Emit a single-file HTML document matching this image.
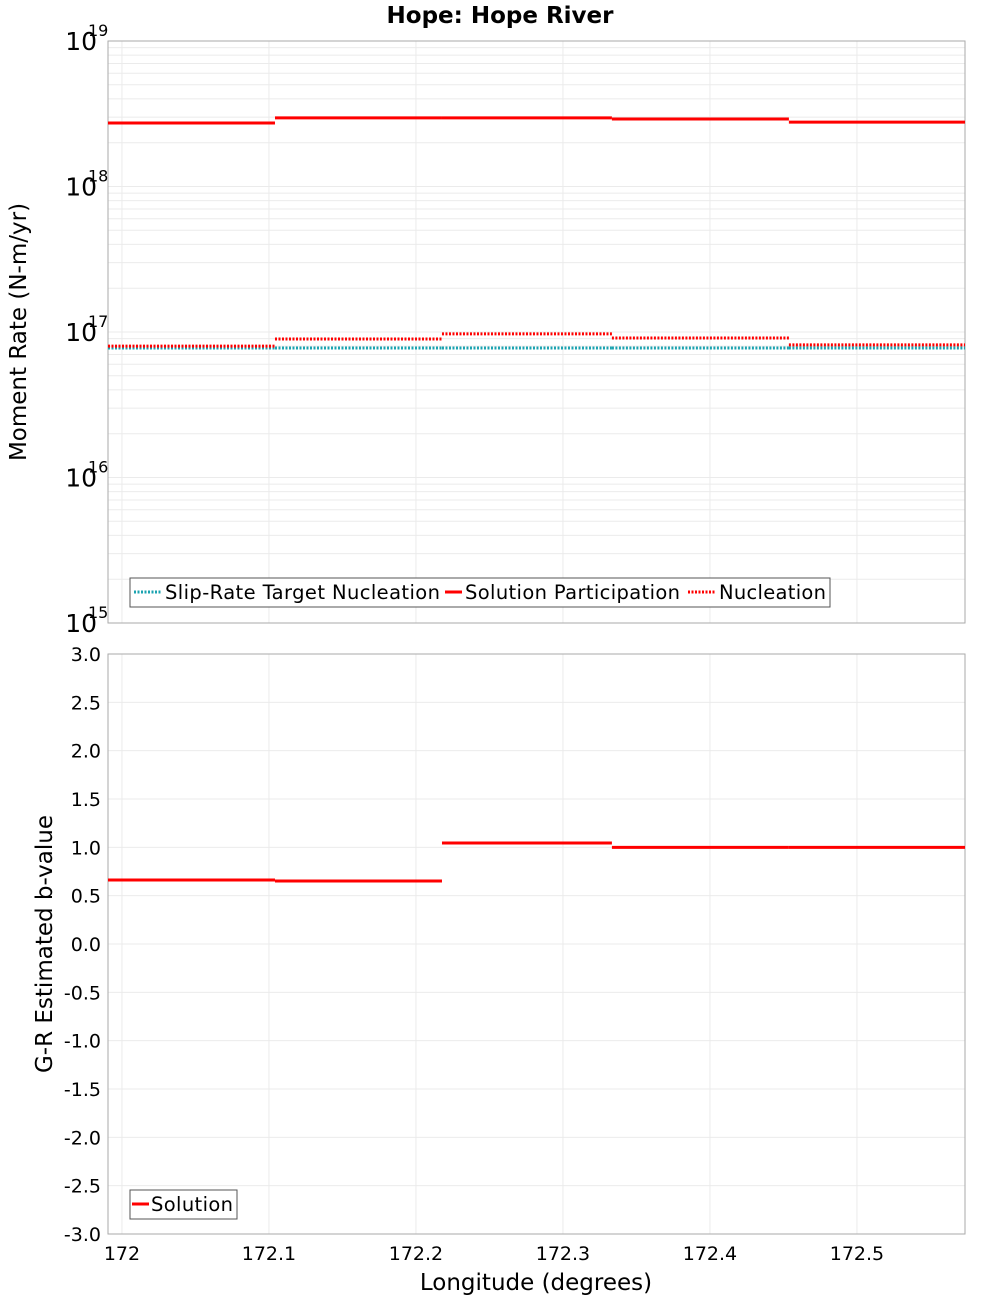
<!DOCTYPE html>
<html><head><meta charset="utf-8"><style>
body{margin:0;background:#fff;font-family:"DejaVu Sans","Liberation Sans",sans-serif}
svg text{font-family:"DejaVu Sans","Liberation Sans",sans-serif}
</style></head><body>
<svg id="c" width="1000" height="1300" xmlns="http://www.w3.org/2000/svg"></svg>
<script>
const bounds=[171.9905,172.1041,172.2177,172.3333,172.4537,172.5735];
const participation=[2.73e18,2.96e18,2.96e18,2.91e18,2.77e18];
const nucleation=[8.0e16,8.96e16,9.7e16,9.1e16,8.15e16];
const target=[7.76e16,7.76e16,7.76e16,7.76e16,7.76e16];
const bvalues=[0.662,0.652,1.045,1.0,1.0];
const xTicks=[172,172.1,172.2,172.3,172.4,172.5];
const xTickLabels=["172","172.1","172.2","172.3","172.4","172.5"];
const logTicks=[15,16,17,18,19];
const bTicks=[3,2.5,2,1.5,1,0.5,0,-0.5,-1,-1.5,-2,-2.5,-3];

const svg=document.getElementById('c');const NS='http://www.w3.org/2000/svg';
function el(t,a,p){const e=document.createElementNS(NS,t);for(const k in a)e.setAttribute(k,a[k]);(p||svg).appendChild(e);return e;}
const L=108,R=965,T1=41,B1=623,T2=654,B2=1234;
const xs=v=>L+(v-bounds[0])/(bounds[5]-bounds[0])*(R-L);
const y1=v=>B1-(Math.log10(v)-15)/4*(B1-T1);
const y2=v=>B2-(v+3)/6*(B2-T2);

const g1=el('g',{});
for(let d=15;d<19;d++)for(let m=1;m<10;m++){const y=y1(m*Math.pow(10,d));el('line',{x1:L,x2:R,y1:y,y2:y,stroke:'#ebebeb'},g1);}
const g2=el('g',{});
bTicks.forEach(v=>{const y=y2(v);el('line',{x1:L,x2:R,y1:y,y2:y,stroke:'#ebebeb'},g2);});
xTicks.forEach(v=>{const x=xs(v);el('line',{x1:x,x2:x,y1:T1,y2:B1,stroke:'#ebebeb'},g1);el('line',{x1:x,x2:x,y1:T2,y2:B2,stroke:'#ebebeb'},g2);});

let f=el('rect',{x:L,y:T1,width:R-L,height:B1-T1,fill:'none',stroke:'#aaa'});
f=el('rect',{x:L,y:T2,width:R-L,height:B2-T2,fill:'none',stroke:'#aaa'});

function series(arr,yf,color,dash,name,w){
  const g=el('g',{});
  arr.forEach((v,i)=>{const a={x1:xs(bounds[i]),x2:xs(bounds[i+1]),y1:yf(v),y2:yf(v),stroke:color,'stroke-width':w};if(dash)a['stroke-dasharray']=dash;el('line',a,g);});
}
series(target,y1,'#1aa3b0','2,1.5','slip-rate-target-series',3);
series(nucleation,y1,'#ff0000','2,1.5','nucleation-series',3);
series(participation,y1,'#ff0000',null,'participation-series',3);
series(bvalues,y2,'#ff0000',null,'b-value-series',3);

function txt(x,y,s,a,name){const t=el('text',Object.assign({x:x,y:y},a));t.textContent=s;return t;}
logTicks.forEach(d=>{const y=y1(Math.pow(10,d));txt(97,y+9,'10',{'font-size':25,'text-anchor':'end'},'y-tick-label');txt(88,y-5,String(d),{'font-size':16},'y-tick-exponent');});
bTicks.forEach(v=>{txt(101,y2(v)+7,v.toFixed(1),{'font-size':19,'text-anchor':'end'},'y-tick-label');});
xTicks.forEach((v,i)=>{txt(xs(v),1260,xTickLabels[i],{'font-size':19,'text-anchor':'middle'},'x-tick-label');});
txt(500,23,'Hope: Hope River',{'font-size':23,'font-weight':'bold','text-anchor':'middle'},'chart-title');
txt(536,1290,'Longitude (degrees)',{'font-size':23,'text-anchor':'middle'},'x-axis-title');
txt(0,0,'Moment Rate (N-m/yr)',{'font-size':23,'text-anchor':'middle',transform:'translate(26,332) rotate(-90)'},'y-axis-title-top');
txt(0,0,'G-R Estimated b-value',{'font-size':23,'text-anchor':'middle',transform:'translate(52,944) rotate(-90)'},'y-axis-title-bottom');

let lg=el('g',{});
el('rect',{x:130,y:578,width:700,height:29,fill:'#fff',stroke:'#555'},lg);
el('line',{x1:134,x2:161,y1:592,y2:592,stroke:'#1aa3b0','stroke-width':3,'stroke-dasharray':'2,1.5'},lg);
txt(165,599,'Slip-Rate Target Nucleation',{'font-size':19.5,textLength:275},'legend-entry-target');
el('line',{x1:445,x2:462,y1:592,y2:592,stroke:'#f00','stroke-width':3},lg);
txt(465,599,'Solution Participation',{'font-size':19.5,textLength:215},'legend-entry-participation');
el('line',{x1:688,x2:716,y1:592,y2:592,stroke:'#f00','stroke-width':3,'stroke-dasharray':'2,1.5'},lg);
txt(719,599,'Nucleation',{'font-size':19.5,textLength:107},'legend-entry-nucleation');
lg=el('g',{});
el('rect',{x:130,y:1190,width:107,height:29,fill:'#fff',stroke:'#555'},lg);
el('line',{x1:132,x2:149,y1:1204,y2:1204,stroke:'#f00','stroke-width':3},lg);
txt(151,1211,'Solution',{'font-size':19.5,textLength:82},'legend-entry-solution');
</script>
</body></html>
